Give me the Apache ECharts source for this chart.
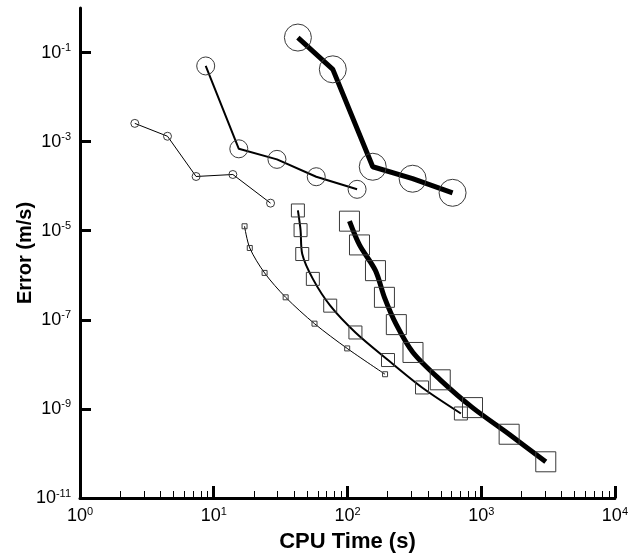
<!DOCTYPE html>
<html><head><meta charset="utf-8">
<script src="https://cdn.jsdelivr.net/npm/echarts@6/dist/echarts.min.js"></script>
<style>html,body{margin:0;padding:0;background:#fff}#c{width:631px;height:560px}</style>
</head><body><div id="c"></div>
<script>
// Tick values
const xMajorTicks = [1, 10, 100, 1000, 10000];
const xMinorTicks = [2,3,4,5,6,7,8,9,20,30,40,50,60,70,80,90,200,300,400,500,600,700,800,900,2000,3000,4000,5000,6000,7000,8000,9000];
const yTicks = [1e-11, 1e-9, 1e-7, 1e-5, 1e-3, 1e-1];

// Series data (CPU time s, error m/s)
const smallCircleX = [2.57, 4.51, 7.38, 13.9, 26.6];
const smallCircleY = [2.57e-3, 1.32e-3, 1.65e-4, 1.83e-4, 4.16e-5];

const medCircleX = [8.71, 15.4, 29.7, 58.4, 118];
const medCircleY = [5.0e-2, 6.9e-4, 4.0e-4, 1.63e-4, 8.5e-5];

const bigCircleX = [42.6, 77.7, 154.5, 307, 611];
const bigCircleY = [0.217, 4.2e-2, 2.73e-4, 1.47e-4, 7.1e-5];

const smallSquareX = [17.0, 18.6, 24.0, 34.5, 56.7, 99.5, 191];
const smallSquareY = [1.26e-5, 4.1e-6, 1.13e-6, 3.2e-7, 8.2e-8, 2.28e-8, 6.0e-9];

const medSquareX = [42.6, 44.6, 45.9, 55.1, 74.3, 114.7, 201, 361, 705];
const medSquareY = [2.85e-5, 1.03e-5, 3.0e-6, 8.3e-7, 2.08e-7, 5.2e-8, 1.25e-8, 3.03e-9, 7.9e-10];

const bigSquareX = [103.5, 123, 162, 189, 232, 309, 494, 861, 1618, 3040];
const bigSquareY = [1.64e-5, 4.8e-6, 1.27e-6, 3.2e-7, 7.8e-8, 1.85e-8, 4.5e-9, 1.07e-9, 2.7e-10, 6.5e-11];

const FONT = 'Liberation Sans, Arial, Helvetica, sans-serif';
function pairs(xs, ys){ return xs.map((x,i)=>[x, ys[i]]); }
function supLabel(v){
  const e = Math.round(Math.log10(v));
  return '{b|10}{s|' + e + '}';
}
const rich = {
  b: {fontSize: 18, fontFamily: FONT, color: '#000', lineHeight: 20},
  s: {fontSize: 11, fontFamily: FONT, color: '#000', verticalAlign: 'top', lineHeight: 20}
};
function mkSeries(xs, ys, symbol, size, lw, smooth){
  return {
    type: 'line', data: pairs(xs, ys), symbol: symbol, symbolSize: size,
    showAllSymbol: true, smooth: smooth, animation: false,
    lineStyle: {color: '#000', width: lw},
    itemStyle: {color: 'rgba(0,0,0,0)', borderColor: '#3a3a3a', borderWidth: 1},
    emphasis: {disabled: true}, z: 2
  };
}

const chart = echarts.init(document.getElementById('c'), null, {renderer: 'canvas'});
chart.setOption({
  backgroundColor: '#fff',
  animation: false,
  grid: {left: 80, right: 15, top: 8, bottom: 62, containLabel: false},
  xAxis: [{
    type: 'log', logBase: 10, min: 1, max: 10000,
    name: 'CPU Time (s)', nameLocation: 'middle', nameGap: 33, nameMoveOverlap: false,
    nameTextStyle: {fontFamily: FONT, fontWeight: 'bold', fontSize: 22, color: '#000'},
    axisLine: {show: true, lineStyle: {color: '#000', width: 3}},
    axisTick: {show: true, inside: true, length: 12, lineStyle: {color: '#000', width: 3}, customValues: xMajorTicks},
    axisLabel: {show: true, margin: 8, customValues: xMajorTicks, formatter: supLabel, rich: rich},
    splitLine: {show: false}, minorTick: {show: false}
  }, {
    type: 'log', logBase: 10, min: 1, max: 10000, position: 'bottom',
    axisLine: {show: false},
    axisTick: {show: true, inside: true, length: 7, lineStyle: {color: '#000', width: 1}, customValues: xMinorTicks},
    axisLabel: {show: false},
    splitLine: {show: false}
  }],
  yAxis: {
    type: 'log', logBase: 10, min: 1e-11, max: 1,
    name: 'Error (m/s)', nameLocation: 'middle', nameGap: 45, nameRotate: 90, nameMoveOverlap: false,
    nameTextStyle: {fontFamily: FONT, fontWeight: 'bold', fontSize: 20, color: '#000'},
    axisLine: {show: true, lineStyle: {color: '#000', width: 3}},
    axisTick: {show: true, inside: true, length: 11, lineStyle: {color: '#000', width: 3}, customValues: yTicks},
    axisLabel: {show: true, margin: 9, customValues: yTicks, formatter: supLabel, rich: rich},
    splitLine: {show: false}
  },
  series: [
    mkSeries(smallCircleX, smallCircleY, 'circle', 8, 1, false),
    mkSeries(medCircleX, medCircleY, 'circle', 18, 2, false),
    mkSeries(bigCircleX, bigCircleY, 'circle', 27, 5, false),
    mkSeries(smallSquareX, smallSquareY, 'rect', 5, 1, 0.3),
    mkSeries(medSquareX, medSquareY, 'rect', 13, 2, 0.3),
    mkSeries(bigSquareX, bigSquareY, 'rect', 20, 5, 0.3)
  ]
});
</script></body></html>
